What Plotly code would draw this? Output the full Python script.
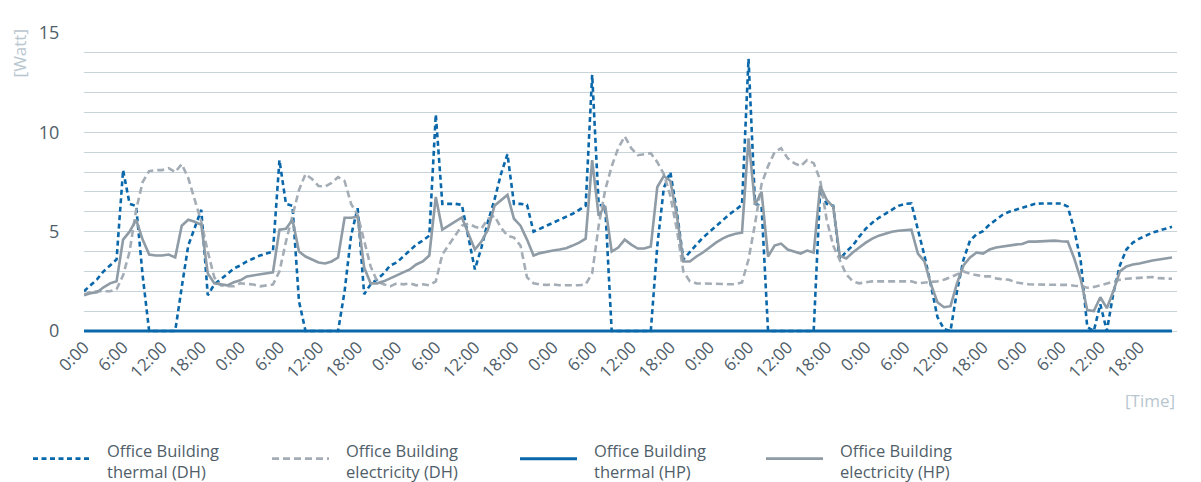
import plotly.graph_objects as go

# hourly values over one week (index = hour since the first 0:00)
hours = list(range(168))

tick_hours = [0, 6, 12, 18, 24, 30, 36, 42, 48, 54, 60, 66, 72, 78,
              84, 90, 96, 102, 108, 114, 120, 126, 132, 138, 144, 150, 156, 162]
tick_labels = ["0:00", "6:00", "12:00", "18:00"] * 7

thermal_dh = [
    2.0, 2.3, 2.6, 3.0, 3.3, 3.6, 8.1, 6.4, 6.3, 2.8, 0, 0, 0, 0, 0, 2.2, 4.3, 5.2, 6.1, 1.8, 2.35, 2.6, 2.9, 3.15,
    3.3, 3.5, 3.65, 3.8, 3.9, 4.0, 8.6, 6.4, 6.3, 1.5, 0, 0, 0, 0, 0, 0, 2.0, 4.8, 6.2, 1.85, 2.35, 2.6, 2.9, 3.3,
    3.45, 3.75, 4.1, 4.35, 4.55, 4.8, 10.9, 6.4, 6.4, 6.4, 6.35, 4.8, 3.1, 4.2, 5.5, 6.6, 7.9, 8.9, 6.4, 6.4, 6.35, 5.0, 5.15, 5.3,
    5.45, 5.6, 5.75, 5.9, 6.1, 6.3, 12.9, 6.35, 6.3, 0, 0, 0, 0, 0, 0, 0, 4.3, 7.2, 8.0, 6.0, 3.6, 4.0, 4.35, 4.7,
    5.0, 5.3, 5.6, 5.85, 6.1, 6.35, 13.7, 6.4, 6.3, 0, 0, 0, 0, 0, 0, 0, 0, 7.1, 6.4, 6.3, 3.6, 4.0, 4.3, 4.75,
    5.15, 5.45, 5.7, 5.9, 6.1, 6.3, 6.4, 6.42, 5.1, 3.8, 2.3, 0.7, 0.1, 0, 2.0, 3.6, 4.55, 4.87, 5.03, 5.36, 5.6, 5.85, 6.0, 6.1,
    6.2, 6.3, 6.4, 6.42, 6.42, 6.42, 6.42, 6.26, 5.1, 3.5, 0.2, 0, 1.35, 0, 1.9, 3.3, 4.1, 4.45, 4.65, 4.8, 4.95, 5.05, 5.15, 5.25,
]

electricity_dh = [
    1.85, 1.95, 2.0, 2.0, 2.0, 2.1, 2.8, 4.0, 6.1, 7.5, 8.05, 8.1, 8.1, 8.2, 8.0, 8.4, 7.7, 6.6, 5.5, 4.0, 2.7, 2.3, 2.25, 2.25,
    2.4, 2.37, 2.34, 2.25, 2.28, 2.34, 3.0, 4.5, 5.8, 7.1, 7.9, 7.65, 7.3, 7.27, 7.45, 7.75, 7.55, 6.4, 5.85, 4.5, 3.25, 2.5, 2.35, 2.25,
    2.4, 2.35, 2.4, 2.3, 2.35, 2.3, 2.5, 3.85, 4.35, 4.8, 5.3, 5.4, 5.25, 5.15, 5.65, 5.8, 5.2, 4.8, 4.7, 4.3, 2.7, 2.4, 2.34, 2.32,
    2.35, 2.3, 2.3, 2.3, 2.3, 2.35, 2.9, 5.3, 7.1, 8.3, 9.2, 9.8, 9.2, 8.85, 8.9, 8.95, 8.5, 7.9, 6.8, 5.1, 3.0, 2.5, 2.4, 2.4,
    2.38, 2.37, 2.37, 2.35, 2.35, 2.45, 3.6, 5.4, 7.4, 8.3, 9.0, 9.2, 8.7, 8.45, 8.3, 8.6, 8.45, 7.6, 5.6, 4.3, 3.6, 2.85, 2.5, 2.4,
    2.45, 2.5, 2.5, 2.5, 2.5, 2.5, 2.5, 2.5, 2.4, 2.45, 2.47, 2.5, 2.58, 2.7, 2.85, 3.0, 2.88, 2.8, 2.75, 2.75, 2.65, 2.6, 2.58, 2.45,
    2.4, 2.35, 2.34, 2.34, 2.34, 2.34, 2.34, 2.32, 2.28, 2.25, 2.18, 2.22, 2.3, 2.4, 2.5, 2.58, 2.63, 2.65, 2.68, 2.7, 2.72, 2.66, 2.65, 2.63,
]

thermal_hp = [
    0, 0, 0, 0, 0, 0, 0, 0, 0, 0, 0, 0, 0, 0, 0, 0, 0, 0, 0, 0, 0, 0, 0, 0,
    0, 0, 0, 0, 0, 0, 0, 0, 0, 0, 0, 0, 0, 0, 0, 0, 0, 0, 0, 0, 0, 0, 0, 0,
    0, 0, 0, 0, 0, 0, 0, 0, 0, 0, 0, 0, 0, 0, 0, 0, 0, 0, 0, 0, 0, 0, 0, 0,
    0, 0, 0, 0, 0, 0, 0, 0, 0, 0, 0, 0, 0, 0, 0, 0, 0, 0, 0, 0, 0, 0, 0, 0,
    0, 0, 0, 0, 0, 0, 0, 0, 0, 0, 0, 0, 0, 0, 0, 0, 0, 0, 0, 0, 0, 0, 0, 0,
    0, 0, 0, 0, 0, 0, 0, 0, 0, 0, 0, 0, 0, 0, 0, 0, 0, 0, 0, 0, 0, 0, 0, 0,
    0, 0, 0, 0, 0, 0, 0, 0, 0, 0, 0, 0, 0, 0, 0, 0, 0, 0, 0, 0, 0, 0, 0, 0,
]

electricity_hp = [
    1.8, 1.9, 1.95, 2.2, 2.4, 2.5, 4.6, 5.0, 5.6, 4.6, 3.85, 3.8, 3.8, 3.85, 3.7, 5.3, 5.6, 5.5, 5.35, 2.9, 2.4, 2.35, 2.3, 2.45,
    2.55, 2.75, 2.8, 2.85, 2.9, 2.95, 5.1, 5.15, 5.6, 4.0, 3.75, 3.6, 3.45, 3.4, 3.5, 3.7, 5.7, 5.7, 5.75, 3.2, 2.4, 2.4, 2.5, 2.65,
    2.8, 2.95, 3.1, 3.35, 3.5, 3.8, 6.75, 5.1, 5.3, 5.5, 5.72, 4.9, 4.1, 4.5, 5.1, 6.3, 6.6, 6.85, 5.65, 5.3, 4.6, 3.8, 3.92, 4.0,
    4.05, 4.1, 4.17, 4.3, 4.45, 4.65, 8.6, 5.8, 6.3, 4.0, 4.2, 4.6, 4.35, 4.15, 4.15, 4.25, 7.25, 7.8, 7.55, 5.8, 3.5, 3.5, 3.75, 3.95,
    4.2, 4.45, 4.65, 4.8, 4.9, 4.95, 9.7, 6.35, 7.0, 3.75, 4.3, 4.4, 4.1, 4.0, 3.9, 4.05, 3.95, 7.3, 6.6, 6.25, 3.8, 3.65, 3.95, 4.2,
    4.45, 4.65, 4.8, 4.9, 5.0, 5.05, 5.07, 5.1, 3.9, 3.5, 2.35, 1.45, 1.2, 1.25, 2.4, 3.3, 3.7, 3.95, 3.9, 4.1, 4.2, 4.25, 4.33, 4.35,
    4.38, 4.5, 4.5, 4.52, 4.55, 4.55, 4.52, 4.5, 3.65, 2.6, 1.05, 1.0, 1.7, 1.15, 2.0, 3.0, 3.25, 3.35, 3.4, 3.48, 3.55, 3.6, 3.65, 3.7,
]

series_names = [
    "Office Building<br>thermal (DH)",
    "Office Building<br>electricity (DH)",
    "Office Building<br>thermal (HP)",
    "Office Building<br>electricity (HP)",
]

BLUE = "#0a68aa"
GREY_DASH = "#a4adb5"
GREY = "#8f9ba5"
GRID = "#c9d3da"
TEXT = "#505e69"
LABEL = "#b8c6cf"
FONT = "Open Sans"

styles = [
    dict(color=BLUE, width=2.6, dash="5px,3.5px"),
    dict(color=GREY_DASH, width=2.6, dash="7px,4px"),
    dict(color=BLUE, width=3, dash="solid"),
    dict(color=GREY, width=2.6, dash="solid"),
]

fig = go.Figure()
for name, values, line in zip(series_names, [thermal_dh, electricity_dh, thermal_hp, electricity_hp], styles):
    fig.add_trace(go.Scatter(x=hours, y=values, name=name, mode="lines", line=line, showlegend=False))

# the page body adds an 8px offset, so the figure is 8px smaller and margins shift
OFF = 8
W, H = 1201 - OFF, 482 - OFF
# plot area in page pixels: left 84, right 1177, top 24, bottom 333
L, R, T, B = 84, 1177, 24, 333


def px(x):
    return (x - L) / (R - L)


def py(y):
    return (B - y) / (B - T)


# legend drawn by hand so the symbols are as long as in the original
legend_x = [33, 272, 520, 766]
for x0, name, line in zip(legend_x, series_names, styles):
    fig.add_shape(type="line", xref="paper", yref="paper",
                  x0=px(x0), x1=px(x0 + 57), y0=py(462), y1=py(462),
                  line=dict(color=line["color"], width=line["width"], dash=line["dash"]))
    fig.add_annotation(xref="paper", yref="paper", x=px(x0 + 72), y=py(464),
                       xanchor="left", yanchor="middle", align="left", showarrow=False,
                       text=name, font=dict(family=FONT, size=16.5, color=TEXT))

fig.add_annotation(xref="paper", yref="paper", x=px(19), y=py(46), xanchor="center", yanchor="middle",
                   text="[Watt]", textangle=-90, showarrow=False,
                   font=dict(family=FONT, size=17, color=LABEL))
fig.add_annotation(xref="paper", yref="paper", x=px(1177), y=py(402), xanchor="right", yanchor="middle",
                   text="[Time]", showarrow=False,
                   font=dict(family=FONT, size=17, color=LABEL))

fig.update_layout(
    width=W,
    height=H,
    margin=dict(l=L - OFF, r=1201 - R, t=T - OFF, b=482 - B),
    plot_bgcolor="white",
    paper_bgcolor="white",
    font=dict(family=FONT, color=TEXT),
    showlegend=False,
)

fig.update_xaxes(
    range=[0, 167.77],
    tickmode="array",
    tickvals=tick_hours,
    ticktext=tick_labels,
    tickangle=-45,
    tickfont=dict(family=FONT, size=17, color=TEXT),
    showgrid=False,
    zeroline=False,
    showline=False,
    ticks="",
)

fig.update_yaxes(
    range=[-0.1, 15.05],
    tick0=0,
    dtick=5,
    tickfont=dict(family=FONT, size=18, color=TEXT),
    showgrid=True,
    gridcolor=GRID,
    gridwidth=1,
    minor=dict(dtick=1, showgrid=True, gridcolor=GRID, gridwidth=1),
    zeroline=False,
    showline=False,
    ticks="outside",
    ticklen=20,
    tickcolor="rgba(0,0,0,0)",
)

fig.write_html("out.html")
